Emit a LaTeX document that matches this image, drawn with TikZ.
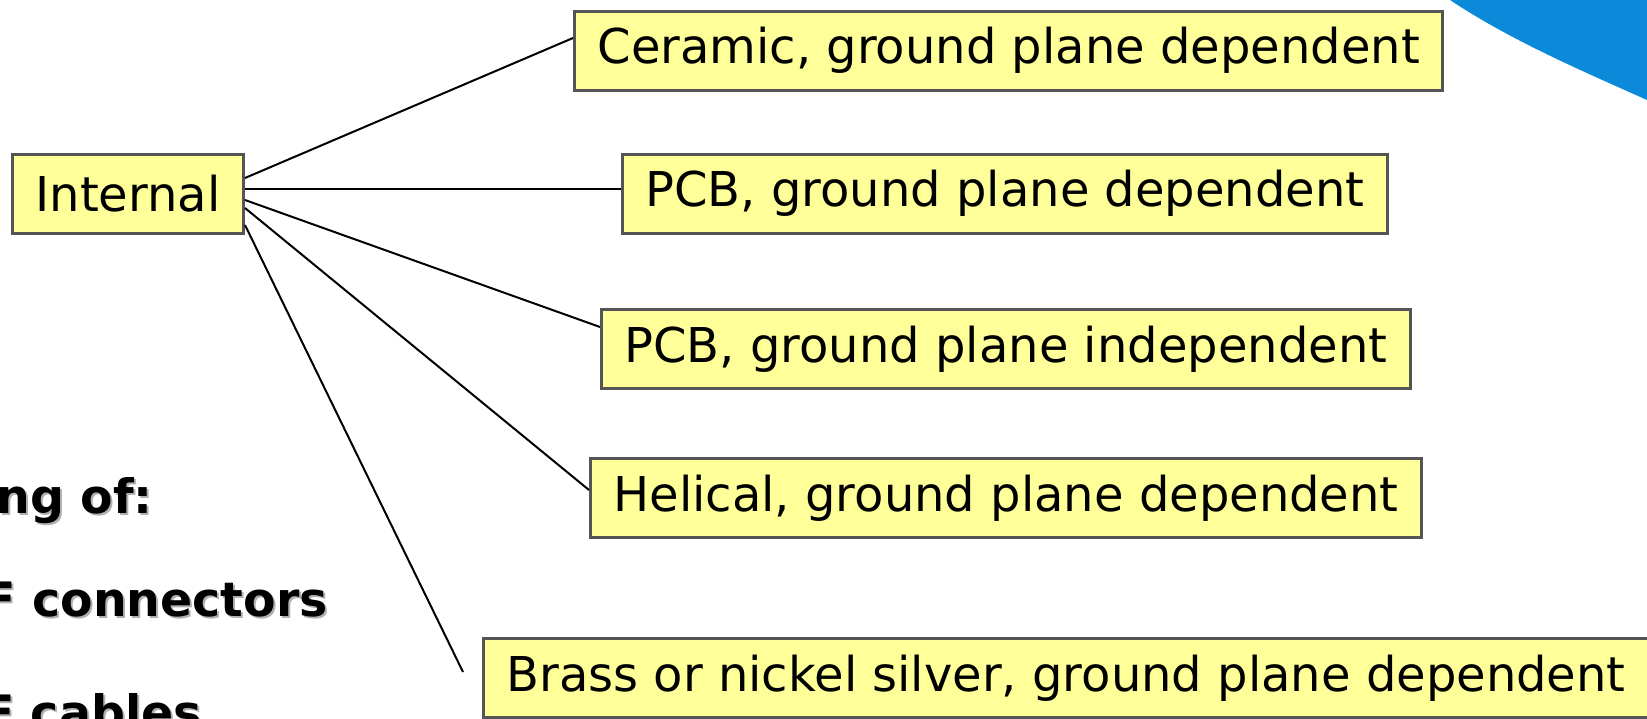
\documentclass[tikz,border=0pt]{standalone}
\usepackage{fontspec}
\setmainfont{DejaVu Sans}
\definecolor{boxfill}{HTML}{FFFF99}
\definecolor{boxline}{HTML}{555555}
\definecolor{swoosh}{HTML}{0A8AD8}
\definecolor{shade}{HTML}{B0B0B0}

\begin{document}
\begin{tikzpicture}[x=0.5pt,y=-0.5pt,
    kind/.style={draw=boxline, fill=boxfill, line width=1.5pt, anchor=west,
        minimum height=39.5pt, inner xsep=11.5pt, font=\fontsize{24pt}{28pt}\selectfont},
    bullet/.style={anchor=base east, inner sep=0pt, font=\fontsize{23.7pt}{28pt}\selectfont\bfseries},
    bulletshade/.style={bullet, text=shade, xshift=1pt, yshift=-1pt},
    link/.style={line width=1pt}]
        \useasboundingbox (0,0) rectangle (1647,718);
        \fill[swoosh](1450,0) .. controls (1510,40) and (1580,70) .. (1647,100)--(1647,0)--cycle;
        % types of internal antennas
        \node[kind] (internal) at (11,194) {Internal};
        \node[kind] (ceramic) at (573,50.5) {Ceramic, ground plane dependent};
        \node[kind] (pcbdep) at (621,193.5) {PCB, ground plane dependent};
        \node[kind] (pcbindep) at (600,349) {PCB, ground plane independent};
        \node[kind] (helical) at (589,498) {Helical, ground plane dependent};
        \node[kind] (brass) at (482,678) {Brass or nickel silver, ground plane dependent};
        \coordinate (brassend) at (463,672);
        \draw[link]([yshift=8pt]internal.east)--([yshift=6.25pt]ceramic.west);
        \draw[link]([yshift=2.5pt]internal.east)--([yshift=2.25pt]pcbdep.west);
        \draw[link]([yshift=-3pt]internal.east)--([yshift=11pt]pcbindep.west);
        \draw[link]([yshift=-7pt]internal.east)--([yshift=4pt]helical.west);
        \draw[link]([yshift=-15.5pt]internal.east)--(brassend);
        % text cut off at the left edge
        \node[bulletshade] (ofshade) at (153,513) {ng of:};
        \node[bullet] (of) at (153,513) {ng of:};
        \node[bulletshade] (connshade) at (328,616) {F connectors};
        \node[bullet] (conn) at (328,616) {F connectors};
        \node[bulletshade] (cabshade) at (202,729) {F cables};
        \node[bullet] (cab) at (202,729) {F cables};
    \end{tikzpicture}
\end{document}
